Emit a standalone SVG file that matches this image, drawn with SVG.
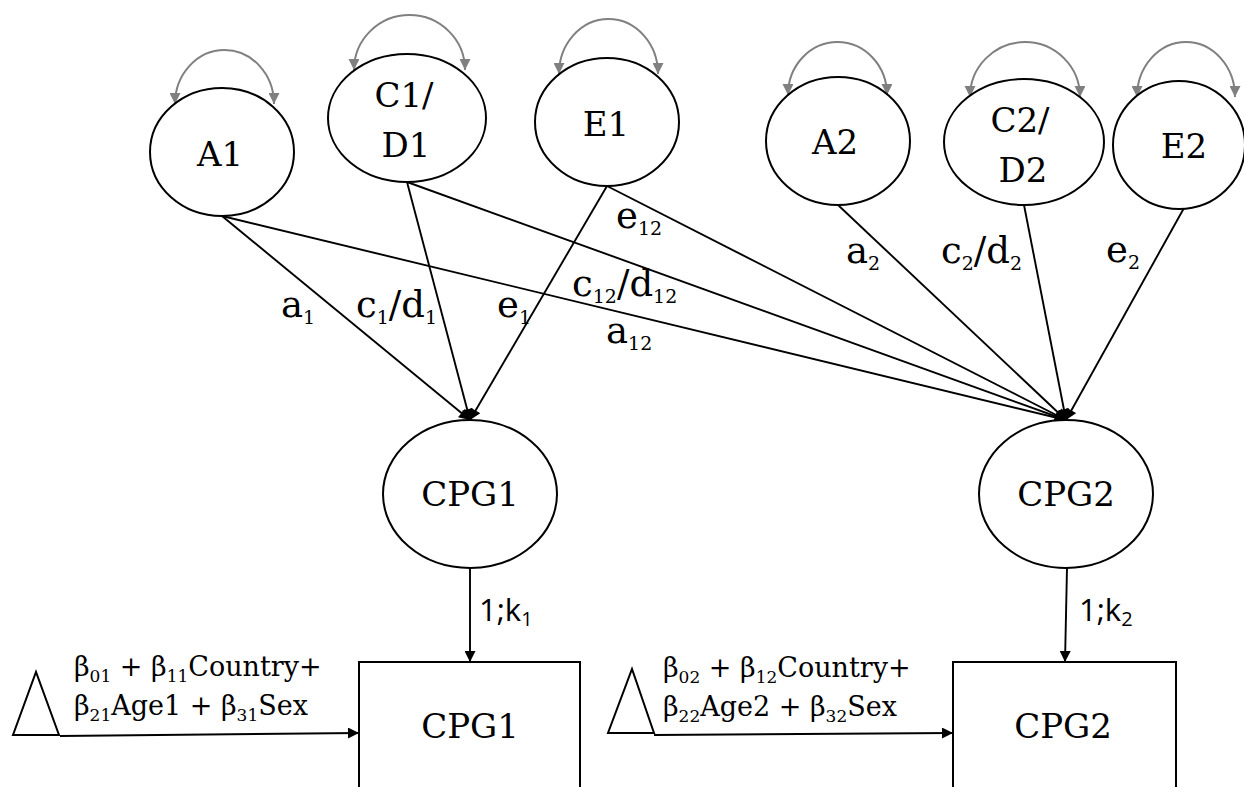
<svg xmlns="http://www.w3.org/2000/svg" width="1244" height="787" viewBox="0 0 1244 787">
<style>
.nd{fill:#fff;stroke:#000;stroke-width:2}
.lbl{font-family:"DejaVu Serif","Liberation Serif",serif;font-size:34px;fill:#000;text-anchor:middle}
.el{font-family:"DejaVu Serif","Liberation Serif",serif;font-size:37px;fill:#000}
.bt{font-family:"DejaVu Serif","Liberation Serif",serif;font-size:27px;fill:#000}
.ks{font-family:"Open Sans","Liberation Sans",sans-serif;font-size:31px;fill:#000}
.ln{stroke:#000;stroke-width:1.9;fill:none;marker-end:url(#ah)}
.arc{stroke:#808080;stroke-width:2;fill:none;marker-start:url(#gh);marker-end:url(#gh)}
</style>
<defs>
<marker id="ah" viewBox="0 0 10 10" refX="10" refY="5" markerWidth="14" markerHeight="11" markerUnits="userSpaceOnUse" orient="auto"><path d="M0,0 L10,5 L0,10 z" fill="#000"/></marker>
<marker id="gh" viewBox="0 0 10 10" refX="10" refY="5" markerWidth="12" markerHeight="11" markerUnits="userSpaceOnUse" orient="auto-start-reverse"><path d="M0,0 L10,5 L0,10 z" fill="#808080"/></marker>
</defs>
<rect width="1244" height="787" fill="#fff"/>

<g id="connectors">
<path class="arc" d="M175,104 A49.5 54 0 0 1 274,104"/>
<path class="arc" d="M354,70 A55.5 55 0 0 1 465,70"/>
<path class="arc" d="M559,74 A49.5 55 0 0 1 658,74"/>
<path class="arc" d="M788,95 A49.5 53 0 0 1 887,95"/>
<path class="arc" d="M970,97 A55 55 0 0 1 1080,97"/>
<path class="arc" d="M1137,97 A49 55 0 0 1 1235,97"/>
<line class="ln" x1="222" y1="216" x2="470" y2="420"/>
<line class="ln" x1="407" y1="182" x2="470" y2="420"/>
<line class="ln" x1="607" y1="186" x2="470" y2="420"/>
<line class="ln" x1="222" y1="216" x2="1066" y2="420"/>
<line class="ln" x1="407" y1="182" x2="1066" y2="420"/>
<line class="ln" x1="607" y1="186" x2="1066" y2="420"/>
<line class="ln" x1="838" y1="205" x2="1066" y2="420"/>
<line class="ln" x1="1024" y1="205" x2="1066" y2="420"/>
<line class="ln" x1="1184" y1="208" x2="1066" y2="420"/>
<line class="ln" x1="470" y1="568" x2="470" y2="662"/>
<line class="ln" x1="1067" y1="568" x2="1065" y2="662"/>
<line class="ln" x1="60" y1="736" x2="359" y2="733"/>
<line class="ln" x1="654" y1="735" x2="953" y2="733"/>
<text class="el" x="281" y="317">a<tspan font-size="19" dy="7">1</tspan></text>
<text class="el" x="356" y="317">c<tspan font-size="19" dy="7">1</tspan><tspan dy="-7">/d</tspan><tspan font-size="19" dy="7">1</tspan></text>
<text class="el" x="497" y="317">e<tspan font-size="19" dy="7">1</tspan></text>
<text class="el" x="616" y="228">e<tspan font-size="19" dy="7">12</tspan></text>
<text class="el" x="572" y="296">c<tspan font-size="19" dy="7">12</tspan><tspan dy="-7">/d</tspan><tspan font-size="19" dy="7">12</tspan></text>
<text class="el" x="606" y="343">a<tspan font-size="19" dy="7">12</tspan></text>
<text class="el" x="846" y="263">a<tspan font-size="19" dy="7">2</tspan></text>
<text class="el" x="941" y="263">c<tspan font-size="19" dy="7">2</tspan><tspan dy="-7">/d</tspan><tspan font-size="19" dy="7">2</tspan></text>
<text class="el" x="1106" y="262">e<tspan font-size="19" dy="7">2</tspan></text>
<text class="ks" x="479" y="621">1;k<tspan font-size="20" dy="5">1</tspan></text>
<text class="ks" x="1079" y="621">1;k<tspan font-size="20" dy="5">2</tspan></text>
<text class="bt" x="74" y="676">β<tspan font-size="17" dy="6">01</tspan><tspan dy="-6"> + β</tspan><tspan font-size="17" dy="6">11</tspan><tspan dy="-6">Country+</tspan></text>
<text class="bt" x="74" y="715">β<tspan font-size="17" dy="6">21</tspan><tspan dy="-6">Age1 + β</tspan><tspan font-size="17" dy="6">31</tspan><tspan dy="-6">Sex</tspan></text>
<text class="bt" x="663" y="677">β<tspan font-size="17" dy="6">02</tspan><tspan dy="-6"> + β</tspan><tspan font-size="17" dy="6">12</tspan><tspan dy="-6">Country+</tspan></text>
<text class="bt" x="663" y="716">β<tspan font-size="17" dy="6">22</tspan><tspan dy="-6">Age2 + β</tspan><tspan font-size="17" dy="6">32</tspan><tspan dy="-6">Sex</tspan></text>
</g>

<g id="A1"><ellipse class="nd" cx="222" cy="152" rx="72" ry="64"/><text class="lbl" x="220" y="166">A1</text></g>
<g id="C1D1"><ellipse class="nd" cx="407" cy="118" rx="79" ry="64"/><text class="lbl" x="404" y="107">C1/</text><text class="lbl" x="406" y="157">D1</text></g>
<g id="E1"><ellipse class="nd" cx="607" cy="122" rx="72" ry="64"/><text class="lbl" x="606" y="136">E1</text></g>
<g id="A2"><ellipse class="nd" cx="838" cy="141" rx="72" ry="64"/><text class="lbl" x="835" y="154">A2</text></g>
<g id="C2D2"><ellipse class="nd" cx="1024" cy="142" rx="80" ry="63"/><text class="lbl" x="1020" y="132">C2/</text><text class="lbl" x="1023" y="182">D2</text></g>
<g id="E2"><ellipse class="nd" cx="1179" cy="145" rx="66" ry="64"/><text class="lbl" x="1184" y="158">E2</text></g>
<g id="CPG1latent"><ellipse class="nd" cx="470" cy="494" rx="87" ry="74"/><text class="lbl" x="470" y="506" font-size="31">CPG1</text></g>
<g id="CPG2latent"><ellipse class="nd" cx="1066" cy="494" rx="87" ry="74"/><text class="lbl" x="1066" y="506" font-size="31">CPG2</text></g>
<g id="CPG1obs"><rect class="nd" x="359" y="662" width="221" height="140"/><text class="lbl" x="470" y="738" font-size="35">CPG1</text></g>
<g id="CPG2obs"><rect class="nd" x="953" y="662" width="223" height="140"/><text class="lbl" x="1063" y="738" font-size="35">CPG2</text></g>
<g id="tri1"><polygon class="nd" points="13,735 59,735 36,672"/></g>
<g id="tri2"><polygon class="nd" points="608,733 654,733 632,669"/></g>
</svg>
